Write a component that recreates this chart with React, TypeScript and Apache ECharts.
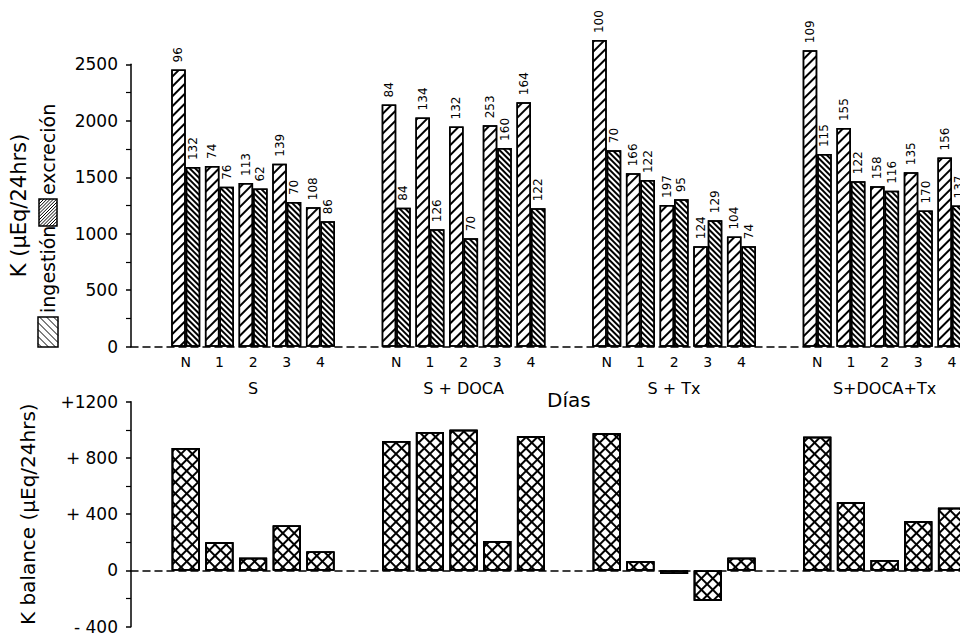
import React, { useEffect, useRef } from "react";
import * as echarts from "echarts";

// ---------- data ----------
const groups = ["S", "S + DOCA", "S + Tx", "S+DOCA+Tx"];
const days = ["N", "1", "2", "3", "4"];

// K ingestion / excretion (µEq/24hrs), 4 groups x 5 days
const ingestion = [
  2455, 1600, 1450, 1620, 1235,
  2145, 2030, 1950, 1960, 2165,
  2715, 1535, 1255, 890, 975,
  2625, 1935, 1420, 1545, 1675,
];
const excretion = [
  1590, 1415, 1400, 1280, 1110,
  1230, 1040, 960, 1760, 1225,
  1740, 1475, 1305, 1120, 890,
  1705, 1465, 1380, 1205, 1250,
];
// numbers printed above the bars
const ingestionN = [96, 74, 113, 139, 108, 84, 134, 132, 253, 164, 100, 166, 197, 124, 104, 109, 155, 158, 135, 156];
const excretionN = [132, 76, 62, 70, 86, 84, 126, 70, 160, 122, 70, 122, 95, 129, 74, 115, 122, 116, 170, 137];
// K balance (µEq/24hrs)
const balance = [
  870, 200, 90, 320, 135,
  920, 985, 1000, 210, 955,
  975, 65, -25, -215, 90,
  950, 485, 75, 350, 445,
];
const balanceTicks = [-400, 0, 400, 800, 1200];
const balanceTickLabels = ["- 400", "0", "+ 400", "+ 800", "+1200"];

// ---------- layout ----------
const FONT = "DejaVu Sans";
const SLOT_W = 8.42;
const GRID_LEFT = 131;
const N_SLOTS = 102;
const FIRST_SLOT = 6;
const GROUP_STRIDE = 25;
const DAY_STRIDE = 4;

const slotIndex: number[] = [];
groups.forEach((_g, gi) =>
  days.forEach((_d, di) => slotIndex.push(FIRST_SLOT + gi * GROUP_STRIDE + di * DAY_STRIDE))
);
const slotToItem = new Map<number, number>(slotIndex.map((s, i) => [s, i]));
const categories = Array.from({ length: N_SLOTS }, (_, s) => `slot${s}`);
const toSlots = (values: number[]) => {
  const arr: (number | string)[] = new Array(N_SLOTS).fill("-");
  slotIndex.forEach((s, i) => (arr[s] = values[i]));
  return arr;
};
const dayLabel = (idx: number) => {
  const it = slotToItem.get(idx);
  return it === undefined ? "" : days[it % days.length];
};
const groupLabel = (idx: number) => {
  for (let gi = 0; gi < groups.length; gi++) {
    if (idx === FIRST_SLOT + gi * GROUP_STRIDE + 2 * DAY_STRIDE) return groups[gi];
  }
  return "";
};

const decalUp = {
  symbol: "rect",
  symbolSize: 1,
  dashArrayX: [1, 0],
  dashArrayY: [1.2, 4.6],
  rotation: -Math.PI / 4,
  color: "#000",
  backgroundColor: "#fff",
};
const decalDownDense = {
  symbol: "rect",
  symbolSize: 1,
  dashArrayX: [1, 0],
  dashArrayY: [1.1, 1.9],
  rotation: Math.PI / 4,
  color: "#000",
  backgroundColor: "#fff",
};
const decalCrossA = {
  symbol: "rect",
  symbolSize: 1,
  dashArrayX: [1, 0],
  dashArrayY: [1.3, 5.6],
  rotation: -Math.PI / 4,
  color: "#000",
  backgroundColor: "#fff",
};
const decalCrossB = {
  symbol: "rect",
  symbolSize: 1,
  dashArrayX: [1, 0],
  dashArrayY: [1.3, 5.6],
  rotation: Math.PI / 4,
  color: "#000",
};

function hatch(x0: number, y0: number, w: number, h: number, s: number, dir: "up" | "down") {
  const out: any[] = [];
  const ls = { stroke: "#000", lineWidth: 1 };
  if (dir === "up") {
    for (let c = x0 + y0 + s / 2; c < x0 + w + y0 + h; c += s) {
      const xa = Math.max(x0, c - (y0 + h));
      const xb = Math.min(x0 + w, c - y0);
      if (xb > xa) out.push({ type: "line", shape: { x1: xa, y1: c - xa, x2: xb, y2: c - xb }, style: ls });
    }
  } else {
    for (let c = x0 - (y0 + h) + s / 2; c < x0 + w - y0; c += s) {
      const xa = Math.max(x0, c + y0);
      const xb = Math.min(x0 + w, c + y0 + h);
      if (xb > xa) out.push({ type: "line", shape: { x1: xa, y1: xa - c, x2: xb, y2: xb - c }, style: ls });
    }
  }
  return out;
}

export default function App() {
  const ref = useRef<HTMLDivElement>(null);
  useEffect(() => {
    if (!ref.current) return;
    const chart = echarts.init(ref.current, undefined, { renderer: "svg" });
    const axisLineStyle = { color: "#000", width: 1.5 };
    const dashed = { color: "#000", width: 1.5, type: [7, 5] as any };
    const barLabel = (nums: number[]) => ({
      show: true,
      position: "top",
      rotate: 90,
      align: "left",
      verticalAlign: "middle",
      distance: 7,
      fontSize: 12,
      fontFamily: FONT,
      color: "#000",
      formatter: (p: any) => {
        const it = slotToItem.get(p.dataIndex);
        return it === undefined ? "" : String(nums[it]);
      },
    });

    chart.setOption({
      animation: false,
      backgroundColor: "#fff",
      textStyle: { fontFamily: FONT, color: "#000" },
      grid: [
        { left: GRID_LEFT, top: 64.3, width: N_SLOTS * SLOT_W, height: 282.4 },
        { left: GRID_LEFT, top: 401.7, width: N_SLOTS * SLOT_W, height: 225 },
      ],
      xAxis: [
        {
          type: "category",
          gridIndex: 0,
          data: categories,
          boundaryGap: true,
          axisLine: { show: true, onZero: true, lineStyle: dashed },
          axisTick: { show: false },
          axisLabel: {
            interval: 0,
            margin: 8,
            fontSize: 14,
            fontFamily: FONT,
            color: "#000",
            formatter: (_v: string, idx: number) => dayLabel(idx),
          },
        },
        {
          type: "category",
          gridIndex: 0,
          position: "bottom",
          offset: 28,
          data: categories,
          boundaryGap: true,
          axisLine: { show: false, onZero: false },
          axisTick: { show: false },
          axisLabel: {
            interval: 0,
            margin: 6,
            fontSize: 16,
            fontFamily: FONT,
            color: "#000",
            formatter: (_v: string, idx: number) => groupLabel(idx),
          },
        },
        {
          type: "category",
          gridIndex: 1,
          data: categories,
          boundaryGap: true,
          axisLine: { show: true, onZero: true, lineStyle: dashed },
          axisTick: { show: false },
          axisLabel: { show: false },
        },
      ],
      yAxis: [
        {
          type: "value",
          gridIndex: 0,
          min: 0,
          max: 2500,
          interval: 500,
          axisLine: { show: true, lineStyle: axisLineStyle },
          axisTick: { show: true, length: 5, lineStyle: axisLineStyle },
          minorTick: { show: true, splitNumber: 2, length: 5, lineStyle: { color: "#000", width: 1.2 } },
          splitLine: { show: false },
          axisLabel: {
            fontSize: 17,
            margin: 13,
            fontFamily: FONT,
            color: "#000",
            formatter: (v: number) => String(v),
          },
          name: "K (µEq/24hrs)",
          nameLocation: "middle",
          nameRotate: 90,
          nameGap: 102,
          nameTextStyle: { fontSize: 21, fontFamily: FONT, color: "#000" },
        },
        {
          type: "value",
          gridIndex: 1,
          min: -400,
          max: 1200,
          interval: 400,
          axisLine: { show: true, onZero: false, lineStyle: axisLineStyle },
          axisTick: { show: true, length: 5, lineStyle: axisLineStyle },
          minorTick: { show: true, splitNumber: 2, length: 5, lineStyle: { color: "#000", width: 1.2 } },
          splitLine: { show: false },
          axisLabel: {
            fontSize: 17,
            margin: 13,
            fontFamily: FONT,
            color: "#000",
            formatter: (v: number) => {
              const i = balanceTicks.indexOf(v);
              return i >= 0 ? balanceTickLabels[i] : "";
            },
          },
          name: "K balance (µEq/24hrs)",
          nameLocation: "middle",
          nameRotate: 90,
          nameGap: 93,
          nameTextStyle: { fontSize: 20, fontFamily: FONT, color: "#000" },
        },
      ],
      series: [
        {
          name: "ingestión",
          type: "bar",
          xAxisIndex: 0,
          yAxisIndex: 0,
          data: toSlots(ingestion),
          barWidth: 14.5,
          barGap: "0%",
          clip: false,
          itemStyle: { color: "#fff", borderColor: "#000", borderWidth: 1.5, decal: decalUp },
          label: barLabel(ingestionN),
        },
        {
          name: "excreción",
          type: "bar",
          xAxisIndex: 0,
          yAxisIndex: 0,
          data: toSlots(excretion),
          barWidth: 14.5,
          barGap: "0%",
          clip: false,
          itemStyle: { color: "#fff", borderColor: "#000", borderWidth: 1.5, decal: decalDownDense },
          label: barLabel(excretionN),
        },
        {
          name: "K balance",
          type: "bar",
          xAxisIndex: 2,
          yAxisIndex: 1,
          data: toSlots(balance),
          barWidth: 28,
          barGap: "-100%",
          itemStyle: { color: "#fff", borderColor: "#000", borderWidth: 1.5, decal: decalCrossA },
        },
        {
          name: "K balance ",
          type: "bar",
          xAxisIndex: 2,
          yAxisIndex: 1,
          data: toSlots(balance),
          barWidth: 28,
          barGap: "-100%",
          itemStyle: { color: "rgba(0,0,0,0)", borderColor: "#000", borderWidth: 1.5, decal: decalCrossB },
        },
      ],
      graphic: [
        {
          type: "text",
          left: 569 - 22,
          top: 390,
          style: { text: "Días", fontSize: 20, fontFamily: FONT, fill: "#000" },
        },
        {
          type: "group",
          x: 48,
          y: 347,
          rotation: Math.PI / 2,
          children: [
            { type: "rect", shape: { x: 0, y: -10, width: 30, height: 20 }, style: { fill: "#fff", stroke: "#000", lineWidth: 1.5 } },
            ...hatch(0, -10, 30, 20, 7, "up"),
            {
              type: "text",
              x: 34,
              y: 0,
              style: { text: "ingestión", fontSize: 19, fontFamily: FONT, fill: "#000", verticalAlign: "middle" },
            },
            { type: "rect", shape: { x: 121, y: -9, width: 27, height: 18 }, style: { fill: "#fff", stroke: "#000", lineWidth: 1.5 } },
            ...hatch(121, -9, 27, 18, 3.2, "down"),
            {
              type: "text",
              x: 152,
              y: 0,
              style: { text: "excreción", fontSize: 19, fontFamily: FONT, fill: "#000", verticalAlign: "middle" },
            },
          ],
        },
      ],
    });
    return () => chart.dispose();
  }, []);

  return (
    <div style={{ position: "fixed", left: 0, top: 0, width: 960, height: 636, overflow: "hidden", background: "#fff" }}>
      <div ref={ref} style={{ width: 1000, height: 636 }} />
    </div>
  );
}
